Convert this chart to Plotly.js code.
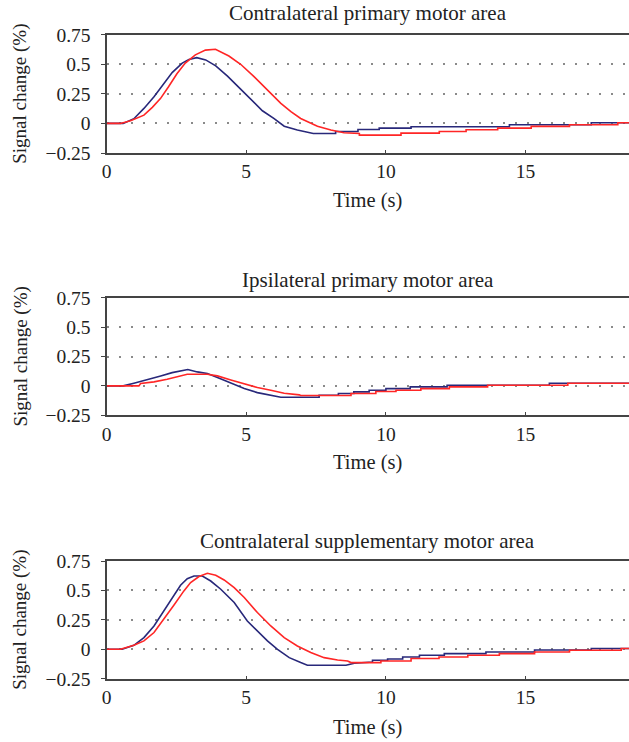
<!DOCTYPE html>
<html>
<head>
<meta charset="utf-8">
<script src="https://cdn.plot.ly/plotly-3.0.1.min.js"></script>
<style>html,body{margin:0;padding:0;background:#fff;}#chart{width:629px;height:742px;}</style>
</head>
<body>
<div id="chart"></div>
<script>
// ---- data ----
const panelTitles = ["Contralateral primary motor area", "Ipsilateral primary motor area", "Contralateral supplementary motor area"];
const xTickVals = [0, 5, 10, 15];
const yTickVals = [-0.25, 0, 0.25, 0.5, 0.75];
const yTickText = ["\u22120.25", "0", "0.25", "0.5", "0.75"];

const p1BlueT = [0,0.6,0.98,1.34,1.70,2.05,2.35,2.71,2.95,3.23,3.55,3.91,4.33,4.80,5.28,5.58,6.0,6.36,6.83,7.4,8.2,8.2,9.0,9.0,9.76,9.76,10.9,10.9,14.42,14.42,17.35,17.35,18.7];
const p1BlueV = [0,0,0.04,0.127,0.226,0.34,0.43,0.51,0.54,0.556,0.537,0.486,0.40,0.29,0.18,0.107,0.04,-0.023,-0.056,-0.085,-0.085,-0.068,-0.068,-0.051,-0.051,-0.04,-0.04,-0.028,-0.028,-0.011,-0.011,0.006,0.006];
const p1RedT = [0,0.5,0.86,1.34,1.64,1.93,2.22,2.52,2.82,3.18,3.54,3.9,4.38,4.80,5.28,5.76,6.24,6.6,6.95,7.55,8.03,8.5,9.05,9.05,10.54,10.54,11.91,11.91,12.87,12.87,14.0,14.0,15.2,15.2,16.57,16.57,18.3,18.3,18.7];
const p1RedV = [0,0,0.023,0.07,0.136,0.21,0.31,0.42,0.51,0.58,0.62,0.627,0.57,0.50,0.395,0.28,0.17,0.099,0.042,-0.023,-0.056,-0.079,-0.085,-0.099,-0.099,-0.082,-0.082,-0.068,-0.068,-0.054,-0.054,-0.04,-0.04,-0.025,-0.025,-0.011,-0.011,0.006,0.006];

const p2BlueT = [0,0.6,0.98,1.46,1.94,2.35,2.77,2.91,3.25,3.61,3.97,4.45,4.93,5.4,5.88,6.24,7.61,7.61,8.3,8.3,8.85,8.85,9.4,9.4,10.0,10.0,10.87,10.87,12.19,12.19,15.85,15.85,18.7];
const p2BlueV = [0,0,0.023,0.051,0.085,0.113,0.133,0.139,0.119,0.105,0.071,0.023,-0.023,-0.057,-0.079,-0.096,-0.096,-0.079,-0.079,-0.065,-0.065,-0.051,-0.051,-0.037,-0.037,-0.023,-0.023,-0.008,-0.008,0.006,0.006,0.023,0.023];
const p2RedT = [0,1.16,1.22,1.7,2.17,2.65,2.89,3.61,3.97,4.45,4.93,5.4,5.88,6.36,6.9,6.95,8.75,8.75,9.64,9.64,10.36,10.36,11.25,11.25,12.27,12.27,13.64,13.64,16.51,16.51,18.7];
const p2RedV = [0,0,0.02,0.034,0.057,0.085,0.099,0.099,0.085,0.051,0.02,-0.014,-0.037,-0.062,-0.076,-0.082,-0.082,-0.065,-0.065,-0.048,-0.048,-0.037,-0.037,-0.023,-0.023,-0.008,-0.008,0.006,0.006,0.023,0.023];

const p3BlueT = [0,0.56,0.98,1.34,1.7,2.06,2.35,2.65,2.89,3.13,3.43,3.73,4.09,4.57,5.04,5.4,5.76,6.12,6.54,6.95,7.19,8.57,8.87,9.52,9.52,10.06,10.06,10.6,10.6,11.2,11.2,12.09,12.09,13.58,13.58,15.32,15.32,17.35,17.35,18.7];
const p3BlueV = [0,0,0.034,0.099,0.198,0.326,0.44,0.544,0.60,0.623,0.623,0.58,0.51,0.397,0.24,0.156,0.071,0,-0.071,-0.113,-0.136,-0.136,-0.119,-0.108,-0.093,-0.093,-0.082,-0.082,-0.065,-0.065,-0.051,-0.051,-0.037,-0.037,-0.023,-0.023,-0.006,-0.006,0.006,0.006];
const p3RedT = [0,0.5,0.98,1.34,1.7,2.06,2.41,2.77,3.01,3.31,3.61,3.91,4.21,4.57,4.93,5.4,5.88,6.36,6.83,7.31,7.79,8.27,8.63,8.75,9.82,9.82,10.9,10.9,11.9,11.9,12.93,12.93,14.06,14.06,15.32,15.32,16.57,16.57,18.42,18.42,18.7];
const p3RedV = [0,0,0.034,0.071,0.142,0.255,0.374,0.496,0.567,0.618,0.646,0.629,0.589,0.524,0.44,0.312,0.198,0.099,0.028,-0.028,-0.071,-0.091,-0.099,-0.113,-0.113,-0.099,-0.099,-0.079,-0.079,-0.065,-0.065,-0.051,-0.051,-0.037,-0.037,-0.023,-0.023,-0.008,-0.008,0.006,0.006];

// ---- styling / layout ----
const W = 629, H = 742;
const FONT = "Liberation Serif, Times New Roman, serif";
const BLUE = "#28287a", RED = "#ff2626";
const panels = [
  {blueT: p1BlueT, blueV: p1BlueV, redT: p1RedT, redV: p1RedV, top: 34.7, bottom: 153, titleY: 13, xtitleY: 200},
  {blueT: p2BlueT, blueV: p2BlueV, redT: p2RedT, redV: p2RedV, top: 297.7, bottom: 415.3, titleY: 280, xtitleY: 463},
  {blueT: p3BlueT, blueV: p3BlueV, redT: p3RedT, redV: p3RedV, top: 561, bottom: 678.7, titleY: 541, xtitleY: 727}
];
const left = 106.5;
const traces = [];
const layout = {
  width: W, height: H,
  margin: {l: 0, r: 0, t: 0, b: 0},
  paper_bgcolor: "#fff", plot_bgcolor: "#fff",
  showlegend: false,
  font: {family: FONT, size: 18, color: "#222"},
  annotations: []
};
panels.forEach((p, i) => {
  const n = i === 0 ? "" : String(i + 1);
  traces.push({x: p.blueT, y: p.blueV, type: "scatter", mode: "lines", line: {color: BLUE, width: 1.6}, xaxis: "x" + n, yaxis: "y" + n, name: "blue"});
  traces.push({x: p.redT, y: p.redV, type: "scatter", mode: "lines", line: {color: RED, width: 1.6}, xaxis: "x" + n, yaxis: "y" + n, name: "red"});
  layout["xaxis" + n] = {
    domain: [left / W, 1], anchor: "y" + n, range: [0, 18.7],
    tickvals: xTickVals, ticks: "inside", ticklen: 3, tickcolor: "#444", tickwidth: 1,
    showline: true, linecolor: "#444", linewidth: 2, mirror: true,
    showgrid: false, zeroline: false,
    tickfont: {family: FONT, size: 19.5, color: "#222"}, fixedrange: true
  };
  layout["yaxis" + n] = {
    domain: [(H - p.bottom) / H, (H - p.top) / H], anchor: "x" + n, range: [-0.25, 0.75],
    tickvals: yTickVals, ticktext: yTickText, ticks: "outside", ticklen: 4, tickcolor: "#444", tickwidth: 1,
    ticklabelstandoff: 6,
    showline: true, linecolor: "#444", linewidth: 2,
    showgrid: true, gridcolor: "#8a8a8a", gridwidth: 2, griddash: "2px,10px",
    zeroline: false,
    tickfont: {family: FONT, size: 19.5, color: "#222"}, fixedrange: true
  };
  layout.annotations.push({text: panelTitles[i], xref: "paper", yref: "paper", x: (left + W) / 2 / W, y: (H - p.titleY) / H, xanchor: "center", yanchor: "middle", showarrow: false, font: {family: FONT, size: 21, color: "#222"}});
  layout.annotations.push({text: "Time (s)", xref: "paper", yref: "paper", x: (left + W) / 2 / W, y: (H - p.xtitleY) / H, xanchor: "center", yanchor: "middle", showarrow: false, font: {family: FONT, size: 20.5, color: "#222"}});
  layout.annotations.push({text: "Signal change (%)", xref: "paper", yref: "paper", x: 20 / W, y: (H - (p.top + p.bottom) / 2) / H, xanchor: "center", yanchor: "middle", textangle: -90, showarrow: false, font: {family: FONT, size: 19, color: "#222"}});
});
Plotly.newPlot("chart", traces, layout, {displayModeBar: false, staticPlot: true});
</script>
</body>
</html>
